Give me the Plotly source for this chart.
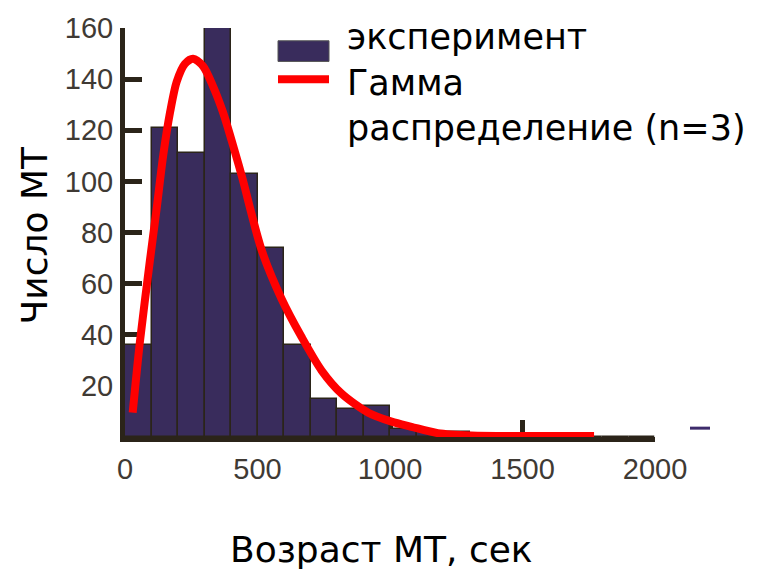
import plotly.graph_objects as go

# Histogram of microtubule ages (bin width 100 s)
bin_start = [0, 100, 200, 300, 400, 500, 600, 700, 800, 900,
             1000, 1100, 1200, 1300, 1400, 1500, 1600, 1700, 1800, 1900]
mt_count = [36, 121, 111, 160, 103, 74, 36, 15, 11, 12,
            3, 2, 2, 1, 1, 1, 1, 0, 0, 0]
bin_width = 100

# Gamma distribution fit (n=3), sampled along the curve
fit_age = [29, 56, 94, 119, 144, 170, 195, 226, 257, 295, 333, 370, 408,
           441, 516, 591, 667, 742, 817, 918, 1006, 1081, 1181, 1307, 1500, 1770]
fit_count = [9.5, 37, 69, 89, 110, 127, 139, 146, 148, 145, 137, 127, 114,
             102, 73, 54, 39, 26, 17, 9.5, 6, 4, 1.5, 0.6, 0.4, 0.4]

x_ticks = [0, 500, 1000, 1500, 2000]
y_ticks = [20, 40, 60, 80, 100, 120, 140, 160]

legend_lines = ["эксперимент", "Гамма", "распределение (n=3)"]

BAR_COLOR = "#392c5c"
AXIS_COLOR = "#2b2419"
TICK_FONT = dict(family="Liberation Sans, Arial, sans-serif", size=29, color="#3f3a34")
TEXT_FONT = "DejaVu Sans, Open Sans, sans-serif"

centers = [b + bin_width / 2 for b in bin_start]

fig = go.Figure()
fig.add_trace(go.Bar(
    x=centers, y=mt_count, width=[bin_width] * len(centers),
    marker=dict(color=BAR_COLOR, line=dict(color=AXIS_COLOR, width=1.5)),
    name=legend_lines[0], showlegend=False,
))
fig.add_trace(go.Scatter(
    x=fit_age, y=fit_count, mode="lines",
    line=dict(color="#ff0000", width=8, shape="spline", smoothing=0.8),
    name=" ".join(legend_lines[1:]), showlegend=False,
))

L, R, T, B = 125, 122, 21, 141
W, H = 777, 578
pw, ph = W - L - R, H - T - B


def px(x):
    return (x - L) / pw


def py(y):
    return (H - B - y) / ph


fig.update_layout(
    width=W, height=H,
    margin=dict(l=L, r=R, t=T, b=B, pad=0),
    paper_bgcolor="white", plot_bgcolor="white",
    bargap=0,
    xaxis=dict(
        range=[0, 2000], tickvals=x_ticks, ticktext=[str(v) for v in x_ticks],
        showgrid=False, zeroline=False,
        showline=True, linecolor=AXIS_COLOR, linewidth=5,
        ticks="inside", ticklen=17, tickwidth=5, tickcolor=AXIS_COLOR,
        tickfont=TICK_FONT, ticklabelstandoff=2, layer="below traces",
    ),
    yaxis=dict(
        range=[0, 160], tickvals=y_ticks, ticktext=[str(v) for v in y_ticks],
        showgrid=False, zeroline=False,
        showline=True, linecolor=AXIS_COLOR, linewidth=5,
        ticks="inside", ticklen=17, tickwidth=5, tickcolor=AXIS_COLOR,
        tickfont=TICK_FONT, ticklabelstandoff=1, layer="below traces",
    ),
    showlegend=False,
)

# Legend drawn as swatches + a three-line label
shapes = [
    dict(type="rect", xref="paper", yref="paper",
         x0=px(278), x1=px(329), y0=py(55), y1=py(34),
         fillcolor=BAR_COLOR, line=dict(color="#555", width=1)),
    dict(type="line", xref="paper", yref="paper",
         x0=px(278), x1=px(329), y0=py(73), y1=py(73),
         line=dict(color="#ff0000", width=8)),
    dict(type="line", xref="paper", yref="paper",
         x0=px(690), x1=px(710), y0=py(428), y1=py(428),
         line=dict(color="#3d2b6b", width=3)),
]
fig.update_layout(shapes=shapes)

annotations = [
    dict(text="<br>".join(legend_lines), x=px(345), y=py(76), xref="paper", yref="paper",
         xanchor="left", yanchor="middle", align="left", showarrow=False,
         font=dict(family=TEXT_FONT, size=35, color="black")),
    dict(text="Число МТ", x=px(34), y=py(232), xref="paper", yref="paper",
         xanchor="center", yanchor="middle", textangle=-90, showarrow=False,
         font=dict(family=TEXT_FONT, size=36, color="black")),
    dict(text="Возраст МТ, сек", x=px(381), y=py(551), xref="paper", yref="paper",
         xanchor="center", yanchor="middle", showarrow=False,
         font=dict(family=TEXT_FONT, size=36, color="black")),
]
fig.update_layout(annotations=annotations)

fig.write_html("out.html")
